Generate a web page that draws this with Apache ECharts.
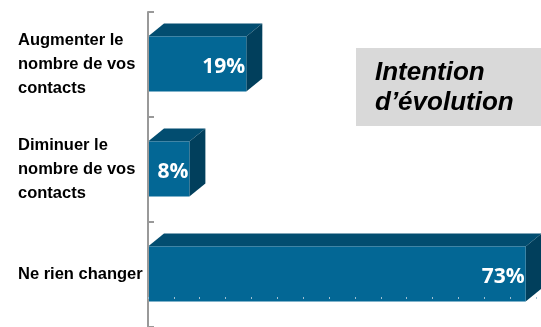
<!DOCTYPE html>
<html>
<head>
<meta charset="utf-8">
<script src="https://cdn.jsdelivr.net/npm/echarts@6/dist/echarts.min.js"></script>
<style>
  html, body { margin: 0; padding: 0; background: #fff; }
  #chart { width: 541px; height: 327px; }
</style>
</head>
<body>
<div id="chart"></div>
<script>
const categories = [
  "Augmenter le\nnombre de vos\ncontacts",
  "Diminuer le\nnombre de vos\ncontacts",
  "Ne rien changer",
];
const values = [19, 8, 73];
const boxTitle = ["Intention", "d’évolution"];

// colours for the three faces of each box
const frontColor = "#036795";
const topColor = "#024d70";
const sideColor = "#013f5c";
const depthX = 16;
const depthY = 13;

const chart = echarts.init(document.getElementById("chart"));

const renderBox = (params, api) => {
  const idx = api.value(1);
  const start = api.coord([0, idx]);
  const end = api.coord([api.value(0), idx]);
  const c = start[1];
  const x0 = start[0];
  const x1 = end[0];
  const yTop = c - 28;
  const yBot = c + 27;
  return {
    type: "group",
    children: [
      {
        type: "polygon",
        shape: { points: [[x0, yTop], [x1, yTop], [x1 + depthX, yTop - depthY], [x0 + depthX, yTop - depthY]] },
        style: { fill: topColor },
      },
      {
        type: "polygon",
        shape: { points: [[x1, yTop], [x1 + depthX, yTop - depthY], [x1 + depthX, yBot - depthY], [x1, yBot]] },
        style: { fill: sideColor },
      },
      {
        type: "rect",
        shape: { x: x0, y: yTop, width: x1 - x0, height: yBot - yTop },
        style: { fill: frontColor },
      },
      {
        type: "text",
        x: x1 - 1,
        y: c + 3,
        style: {
          text: api.value(0) + "%",
          fill: "#fff",
          font: "bold 21px 'Open Sans'",
          align: "right",
          verticalAlign: "middle",
        },
      },
    ],
  };
};

const options = {
  animation: false,
  grid: { left: 148, right: 5, top: 12, bottom: 0 },
  xAxis: {
    type: "value",
    min: 0,
    max: 75,
    interval: 5,
    offset: -28,
    z: 10,
    axisLine: { show: false },
    axisTick: { show: true, inside: true, length: 2, lineStyle: { color: "#9fc0d2" } },
    axisLabel: { show: false },
    splitLine: { show: false },
  },
  yAxis: {
    type: "category",
    inverse: true,
    data: categories,
    z: 10,
    axisLine: { show: true, lineStyle: { color: "#999", width: 2 } },
    axisTick: { show: true, inside: true, length: 6, lineStyle: { color: "#999", width: 2 } },
    axisLabel: {
      align: "left",
      margin: 130,
      padding: [6, 0, 0, 0],
      color: "#000",
      fontFamily: "'Liberation Sans', Arial",
      fontWeight: "bold",
      fontSize: 16.5,
      lineHeight: 24,
    },
  },
  series: [
    {
      type: "custom",
      renderItem: renderBox,
      encode: { x: 0, y: 1 },
      data: values.map((v, i) => [v, i]),
      z: 3,
    },
  ],
  graphic: [
    {
      type: "rect",
      shape: { x: 356, y: 48, width: 190, height: 78 },
      style: { fill: "#d9d9d9" },
    },
    {
      type: "text",
      x: 375,
      y: 73,
      style: {
        text: boxTitle[0],
        fill: "#000",
        font: "italic bold 26px 'Liberation Sans', Arial",
        verticalAlign: "middle",
      },
    },
    {
      type: "text",
      x: 375,
      y: 103,
      style: {
        text: boxTitle[1],
        fill: "#000",
        font: "italic bold 26px 'Liberation Sans', Arial",
        verticalAlign: "middle",
      },
    },
  ],
};

chart.setOption(options);
</script>
</body>
</html>
